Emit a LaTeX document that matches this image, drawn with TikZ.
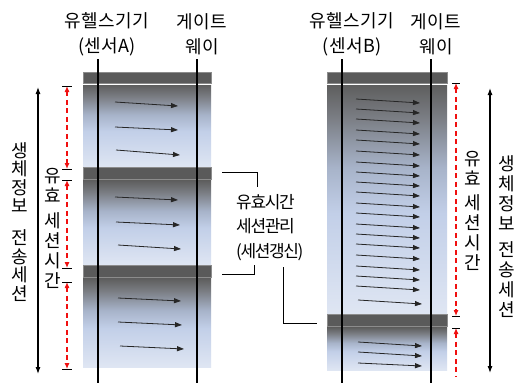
\documentclass[tikz,border=0pt]{standalone}
\usepackage{fontspec}
\setmainfont{Noto Sans CJK KR}
\newfontfamily\hdfont[LetterSpace=2]{Noto Sans CJK KR}
\newfontfamily\midfont[LetterSpace=-8]{Noto Sans CJK KR}
\usetikzlibrary{arrows.meta}
\definecolor{bardark}{HTML}{5A5A5A}
\definecolor{baredge}{HTML}{8C8C8C}
\definecolor{segtop}{HTML}{5E5E5E}
\definecolor{segtwo}{HTML}{7A7D83}
\definecolor{segmidA}{HTML}{A7B3C9}
\definecolor{segmid}{HTML}{C2CFE8}
\definecolor{segbot}{HTML}{DFE6F3}
\definecolor{dashred}{HTML}{F01010}
\pgfdeclareverticalshading{segshade}{100bp}{color(0bp)=(segbot); color(25bp)=(segbot); color(47bp)=(segmid); color(57bp)=(segmidA); color(68bp)=(segtwo); color(75bp)=(segtop); color(100bp)=(segtop)}
\tikzset{
  hdr/.style={font=\hdfont\fontsize{18}{25}\selectfont, align=center, inner sep=0pt},
  vtxt/.style={font=\fontsize{18}{18.5}\selectfont, align=center, inner sep=0pt},
  vtxtb/.style={font=\fontsize{18}{20}\selectfont, align=center, inner sep=0pt},
  midtxt/.style={font=\midfont\fontsize{17}{24.5}\selectfont, align=left, inner sep=0pt},
  bar/.style={fill=bardark, draw=baredge, line width=0.4pt},
  seg/.style={shading=segshade},
  pline/.style={draw=black, line width=1.4pt},
  parrow/.style={draw=black!85, line width=0.8pt, -{Triangle[length=7pt,width=5pt]}},
  longarrow/.style={draw=black, line width=1.1pt, {Latex[length=7pt,width=5pt]}-{Latex[length=7pt,width=5pt]}},
  redarrow/.style={draw=dashred, line width=1.1pt, dash pattern=on 5pt off 3.5pt, {Latex[length=6pt,width=5pt]}-{Latex[length=6pt,width=5pt]}},
  redarrowtop/.style={draw=dashred, line width=1.1pt, dash pattern=on 5pt off 3.5pt, {Latex[length=6pt,width=5pt]}-},
  tick/.style={draw=black, line width=0.7pt},
  conn/.style={draw=black, line width=0.8pt},
}
\begin{document}
\begin{tikzpicture}[x=1pt,y=-1pt]
\useasboundingbox[fill=white] (0,0) rectangle (522,383);
% ---------- left panel ----------
\filldraw[bar] (83,72) rectangle (211,83);
\shade[seg] (83,85) rectangle (211,167.5);
\filldraw[bar] (83,167.5) rectangle (211,179);
\shade[seg] (83,180.5) rectangle (211,265);
\filldraw[bar] (83,265) rectangle (211,276.8);
\shade[seg] (83,278.5) rectangle (211,367);
% arrows
\draw[parrow] (115,102) -- (178,106);
\draw[parrow] (115,127) -- (178,130);
\draw[parrow] (116,150) -- (180,155);
\draw[parrow] (115,197) -- (178,200);
\draw[parrow] (116,222) -- (180,225);
\draw[parrow] (118,245) -- (181,249);
\draw[parrow] (118,298) -- (181,301);
\draw[parrow] (118,322) -- (182,325);
\draw[parrow] (120,346) -- (184,349);
% ---------- right panel ----------
\filldraw[bar] (327,72) rectangle (447,83);
\shade[seg] (327,85) rectangle (447,314);
\filldraw[bar] (327,314) rectangle (447,326);
\shade[seg] (327,327.5) rectangle (447,370);
\foreach \yy in {99,109,119,130,140,151,162,172,182,192,203,213,224,234,244,255,266,276,286}
  \draw[parrow] (356,\yy) -- (420,{\yy+4});
\draw[parrow] (358,300) -- (422,304);
\draw[parrow] (358,342) -- (422,346);
\draw[parrow] (358,352) -- (422,356);
\draw[parrow] (358,363) -- (422,366);
% ---------- vertical lines ----------
\coordinate (la1) at (98,59);  \coordinate (la2) at (98,383);
\coordinate (lb1) at (197,59); \coordinate (lb2) at (197,383);
\coordinate (ra1) at (342,59); \coordinate (ra2) at (342,383);
\coordinate (rb1) at (431,59); \coordinate (rb2) at (431,383);
\draw[pline] (la1) -- (la2);
\draw[pline] (lb1) -- (lb2);
\draw[pline] (ra1) -- (ra2);
\draw[pline] (rb1) -- (rb2);
% ---------- headers ----------
\node[hdr] (hla) at (107,34.5) {유헬스기기\\(센서A)};
\node[hdr] (hlb) at (202,34.5) {게이트\\웨이};
\node[hdr] (hra) at (352,34.5) {유헬스기기\\(센서B)};
\node[hdr] (hrb) at (436,34.5) {게이트\\웨이};
% ---------- left side arrows & labels ----------
\coordinate (lt1) at (38,87); \coordinate (lt2) at (38,374);
\draw[longarrow] (lt1) -- (lt2);
\node[vtxt] (lsess) at (20,222) {생\\체\\정\\보\\[13.5pt]전\\송\\세\\션};
\foreach \a/\b [count=\i] in {86/169,180/268,282/369}{
  \coordinate (lr\i a) at (67,\a); \coordinate (lr\i b) at (67,\b);
  \draw[redarrow] (lr\i a) -- (lr\i b);
  \draw[tick] (62,\a) -- (72,\a);
  \draw[tick] (62,\b) -- (72,\b);
}
\node[vtxtb] (lvalid) at (53,228) {유\\효\\[5pt]세\\션\\시\\간};
% ---------- right side arrows & labels ----------
\coordinate (rt1) at (490,88); \coordinate (rt2) at (490,373);
\draw[longarrow] (rt1) -- (rt2);
\node[vtxtb] (rsess) at (507,237) {생\\체\\정\\보\\[6pt]전\\송\\세\\션};
\coordinate (rr1a) at (456,83); \coordinate (rr1b) at (456,316);
\draw[redarrow] (rr1a) -- (rr1b);
\draw[tick] (452,83) -- (460,83);
\draw[tick] (452,316) -- (460,316);
\coordinate (rr2a) at (456,328); \coordinate (rr2b) at (456,376);
\draw[redarrowtop] (rr2a) -- (rr2b);
\draw[tick] (452,328) -- (460,328);
\node[vtxtb] (rvalid) at (473,211) {유\\효\\[4pt]세\\션\\시\\간};
% ---------- middle label ----------
\node[midtxt, anchor=west] (mid) at (236,227.5) {유효시간\\세션관리\\(세션갱신)};
\draw[conn] (222,172) -- (257,172) -- (257,187);
\draw[conn] (222,274) -- (254,274) -- (254,265);
\draw[conn] (283,267) -- (283,323) -- (317,323);
\end{tikzpicture}
\end{document}
